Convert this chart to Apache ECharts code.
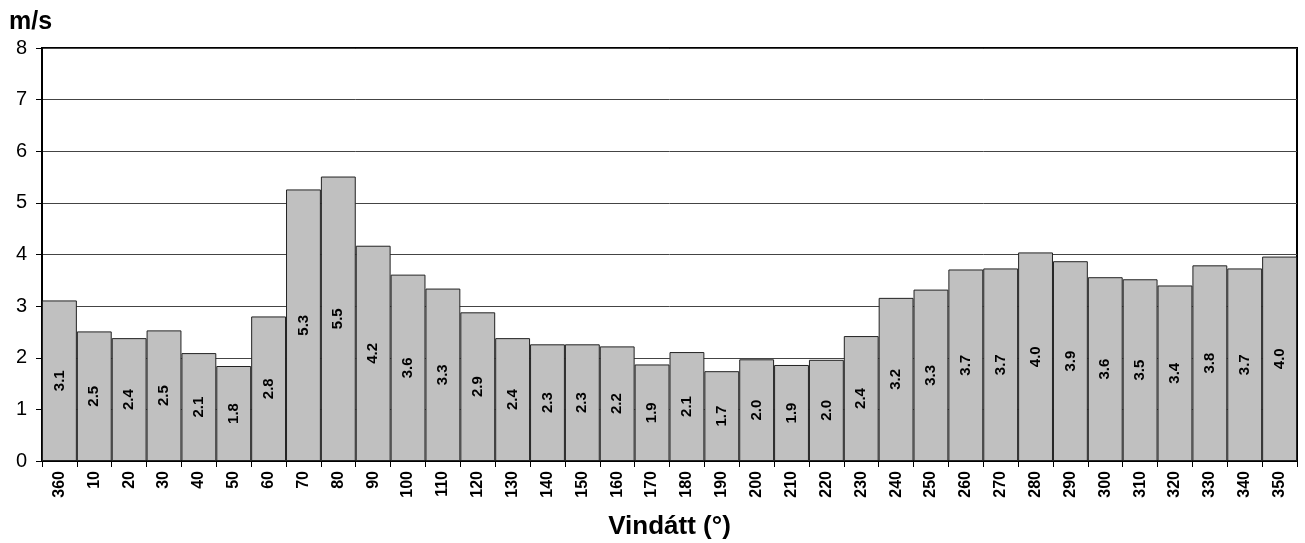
<!DOCTYPE html>
<html><head><meta charset="utf-8">
<script src="https://cdn.jsdelivr.net/npm/echarts@6/dist/echarts.min.js"></script>
<style>html,body{margin:0;padding:0;background:#fff}#c{width:1305px;height:543px}</style>
</head><body><div id="c"></div>
<script>
const categories = ['360','10','20','30','40','50','60','70','80','90','100','110','120','130','140','150','160','170','180','190','200','210','220','230','240','250','260','270','280','290','300','310','320','330','340','350'];
const speeds = [3.11,2.51,2.38,2.53,2.09,1.84,2.8,5.26,5.51,4.17,3.61,3.34,2.88,2.38,2.26,2.26,2.22,1.87,2.11,1.74,1.97,1.86,1.96,2.42,3.16,3.32,3.71,3.73,4.04,3.87,3.56,3.52,3.40,3.79,3.73,3.96];
const yTicks = [0,1,2,3,4,5,6,7,8];
const yUnit = 'm/s';
const xTitle = 'Vindátt (°)';

const chart = echarts.init(document.getElementById('c'));
const FONT = '"Liberation Sans", Arial, sans-serif';
chart.setOption({
  animation: false,
  backgroundColor: '#fff',
  grid: {left: 42, right: 8, top: 48, bottom: 82, show: true, borderColor: '#000', borderWidth: 2, containLabel: false, outerBoundsMode: 'none'},
  title: {text: yUnit, left: 4, top: 5, textStyle: {fontFamily: FONT, fontSize: 25, fontWeight: 'bold', color: '#000'}},
  xAxis: {
    type: 'category', data: categories,
    name: xTitle, nameLocation: 'middle', nameGap: 53,
    nameTextStyle: {fontFamily: FONT, fontSize: 26, fontWeight: 'bold', color: '#000'},
    axisLine: {lineStyle: {color: '#000', width: 2}},
    axisTick: {show: true, length: 6, lineStyle: {color: '#000', width: 1}},
    axisLabel: {rotate: 90, fontFamily: FONT, fontSize: 16, fontWeight: 'bold', color: '#000', margin: 10},
    splitLine: {show: false}
  },
  yAxis: {
    type: 'value', min: yTicks[0], max: yTicks[yTicks.length-1], interval: 1,
    axisLine: {show: true, lineStyle: {color: '#000', width: 2}},
    axisTick: {show: true, length: 6, lineStyle: {color: '#000', width: 1}},
    axisLabel: {fontFamily: FONT, fontSize: 20, color: '#000', margin: 15},
    splitLine: {show: true, lineStyle: {color: '#444', width: 1}}
  },
  series: [{
    type: 'bar', data: speeds, barCategoryGap: '0%',
    itemStyle: {color: '#c0c0c0', borderColor: '#222', borderWidth: 1},
    label: {show: true, position: 'inside', rotate: 90, fontFamily: FONT, fontSize: 15, fontWeight: 'bold', color: '#000',
      formatter: p => p.value.toFixed(1)}
  }]
});
</script></body></html>
